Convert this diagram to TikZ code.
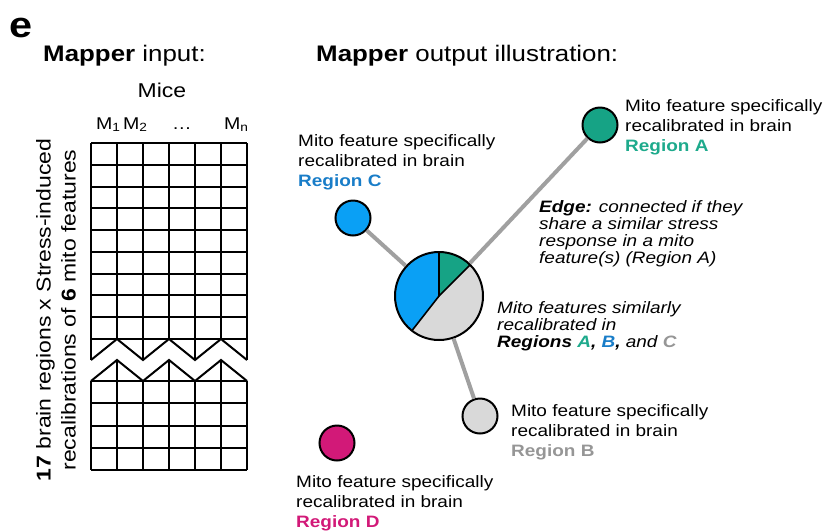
\documentclass[tikz,border=0pt]{standalone}
\usepackage{fontspec}
\setmainfont[FakeStretch=1.15]{Liberation Sans}
\definecolor{tealA}{RGB}{22,163,133}
\definecolor{tealtxt}{RGB}{30,170,140}
\definecolor{blueC}{RGB}{10,160,245}
\definecolor{bluetxt}{RGB}{25,125,200}
\definecolor{grayB}{RGB}{217,217,217}
\definecolor{graytxt}{RGB}{150,150,150}
\definecolor{pinkD}{RGB}{210,25,120}
\definecolor{edgegray}{RGB}{160,160,160}
\begin{document}
\begin{tikzpicture}[x=1pt,y=-1pt,
  gridline/.style={line width=2pt,line join=miter},
  blob/.style={circle,draw=black,line width=2pt,minimum size=35pt,inner sep=0pt},
  edgeline/.style={draw=edgegray,line width=4pt},
  desc/.style={anchor=base west,align=left,inner sep=0pt,font=\fontsize{16.5}{20}\selectfont},
  idesc/.style={anchor=base west,align=left,inner sep=0pt,font=\fontsize{16.5}{17}\selectfont\itshape},
  heading/.style={anchor=base west,inner sep=0pt,font=\fontsize{22.5}{26}\selectfont},
  mlabel/.style={anchor=base west,inner sep=0pt,font=\fontsize{17}{20}\selectfont}]
\useasboundingbox (0,0) rectangle (825,531);

% panel letter and headings
\node[anchor=base west,inner sep=0pt,font=\fontsize{36}{40}\selectfont\bfseries] (lett) at (9,37) {e};
\node[heading] (hin) at (43,61) {\textbf{Mapper} input:};
\node[heading] (hout) at (316,61) {\textbf{Mapper} output illustration:};

% input matrix labels
\node[anchor=base,inner sep=0pt,font=\fontsize{20}{24}\selectfont] (mice) at (162,97) {Mice};
\node[mlabel] (m1) at (96,129) {M\textsubscript{1}};
\node[mlabel] (m2) at (123,129) {M\textsubscript{2}};
\node[mlabel,anchor=base] (mdots) at (182,129) {\dots};
\node[mlabel] (mn) at (224,129) {M\textsubscript{n}};
\node[rotate=90,align=center,inner sep=0pt,font=\fontsize{20}{25}\selectfont] (ylab) at (56,310)
  {\textbf{17} brain regions x Stress-induced\\recalibrations of \textbf{6} mito features};

% upper part of matrix
\foreach \k in {0,...,9} \draw[gridline] (91,{143+\k*21.78}) -- (247,{143+\k*21.78});
\foreach \xx in {91,143,195,247} \draw[gridline] (\xx,143) -- (\xx,360);
\foreach \xx in {117,169,221} \draw[gridline] (\xx,143) -- (\xx,339);
\draw[gridline] (91,360) -- (117,339) -- (143,360) -- (169,339) -- (195,360) -- (221,339) -- (247,360);
% lower part of matrix
\draw[gridline] (91,381) -- (117,360) -- (143,381) -- (169,360) -- (195,381) -- (221,360) -- (247,381);
\foreach \k in {0,...,4} \draw[gridline] (91,{381+\k*22.25}) -- (247,{381+\k*22.25});
\foreach \xx in {91,143,195,247} \draw[gridline] (\xx,381) -- (\xx,470);
\foreach \xx in {117,169,221} \draw[gridline] (\xx,360) -- (\xx,470);

% pie chart
\coordinate (pc) at (439,296);
\begin{scope}[shift={(pc)},x=1pt,y=1pt]
  \fill[tealA] (0,0) -- (45:44) arc[start angle=45,end angle=90,radius=44] -- cycle;
  \fill[blueC] (0,0) -- (90:44) arc[start angle=90,end angle=232,radius=44] -- cycle;
  \fill[grayB] (0,0) -- (232:44) arc[start angle=232,end angle=405,radius=44] -- cycle;
  \draw[line width=1.6pt] (45:44) -- (0,0) -- (90:44);
  \draw[line width=1.6pt] (0,0) -- (232:44);
\end{scope}
\node[circle,draw=black,line width=2pt,minimum size=88pt,inner sep=0pt] (P) at (pc) {};

% region nodes
\node[blob,fill=tealA] (A) at (600,125) {};
\node[blob,fill=blueC] (C) at (353,218) {};
\node[blob,fill=grayB] (B) at (480,416) {};
\node[blob,fill=pinkD] (D) at (337,443) {};

% edges
\draw[edgeline] (P) -- (A);
\draw[edgeline] (P) -- (C);
\draw[edgeline] (P) -- (B);

% descriptions (anchored at the baseline of their last line)
\node[desc] (tA) at (625,151) {Mito feature specifically\\recalibrated in brain\\\textcolor{tealtxt}{\textbf{Region A}}};
\node[desc] (tC) at (298,186) {Mito feature specifically\\recalibrated in brain\\\textcolor{bluetxt}{\textbf{Region C}}};
\node[desc] (tB) at (511,456) {Mito feature specifically\\recalibrated in brain\\\textcolor{graytxt}{\textbf{Region B}}};
\node[desc] (tD) at (296,527) {Mito feature specifically\\recalibrated in brain\\\textcolor{pinkD}{\textbf{Region D}}};
\node[idesc] (tE) at (539,263) {\textbf{Edge:} connected if they\\share a similar stress\\response in a mito\\feature(s) (Region A)};
\node[idesc] (tP) at (497,347) {Mito features similarly\\recalibrated in\\\textbf{Regions \textcolor{tealtxt}{A}, \textcolor{bluetxt}{B},} and \textbf{\textcolor{graytxt}{C}}};
\end{tikzpicture}
\end{document}
